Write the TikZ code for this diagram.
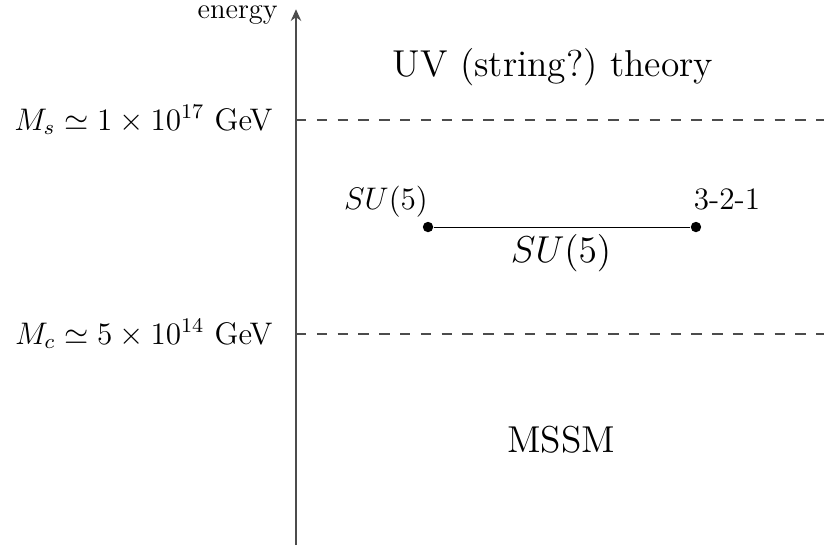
\documentclass[tikz,border=0pt]{standalone}
\usepackage{amsmath,amssymb}
\usepackage{tikz}
\usetikzlibrary{arrows.meta,positioning,calc}

\begin{document}
\begin{tikzpicture}[
    >={Stealth[length=4.5pt,width=4pt]},
    axis/.style={draw=black!70, semithick},
    scaleline/.style={draw=black!70, semithick, dash pattern=on 4pt off 4pt},
    bar/.style={draw=black, thin},
    dot/.style={circle, fill=black, inner sep=0pt, minimum size=4pt},
    lbl/.style={inner sep=0pt, anchor=east, font=\large},
    region/.style={inner sep=0pt, font=\Large}
]
\useasboundingbox (-4.0,0) rectangle (7.135,7.365);

% energy axis
\coordinate (foot) at (0,0);
\coordinate (top) at (0,7.24);
\draw[axis,->] (foot) -- (top);
\node[inner sep=0pt, anchor=base east, font=\fontsize{11}{13}\selectfont] (energy) at (-0.24,7.12) {energy};

% scales
\coordinate (ms) at (0,5.743);
\coordinate (msend) at (7.135,5.743);
\coordinate (mc) at (0,2.851);
\coordinate (mcend) at (7.135,2.851);
\draw[scaleline] (ms) -- (msend);
\draw[scaleline] (mc) -- (mcend);
\node[lbl] (mslabel) at (-0.31,5.743) {$M_s\simeq 1\times 10^{17}$ GeV};
\node[lbl] (mclabel) at (-0.31,2.851) {$M_c\simeq 5\times 10^{14}$ GeV};

% breaking interval
\node[dot] (gut) at (1.784,4.297) {};
\node[dot] (sm) at (5.405,4.297) {};
\draw[bar] (gut) -- (sm);
\node[inner sep=0pt, font=\large] (gutname) at (1.216,4.635) {$SU(5)$};
\node[inner sep=0pt, font=\large] (smname) at (5.824,4.676) {3-2-1};

% regions
\node[region] (uv) at (3.473,6.459) {UV (string?)\ theory};
\node[region] (su5) at (3.581,3.946) {$SU(5)$};
\node[region] (mssm) at (3.581,1.419) {MSSM};

\end{tikzpicture}
\end{document}
